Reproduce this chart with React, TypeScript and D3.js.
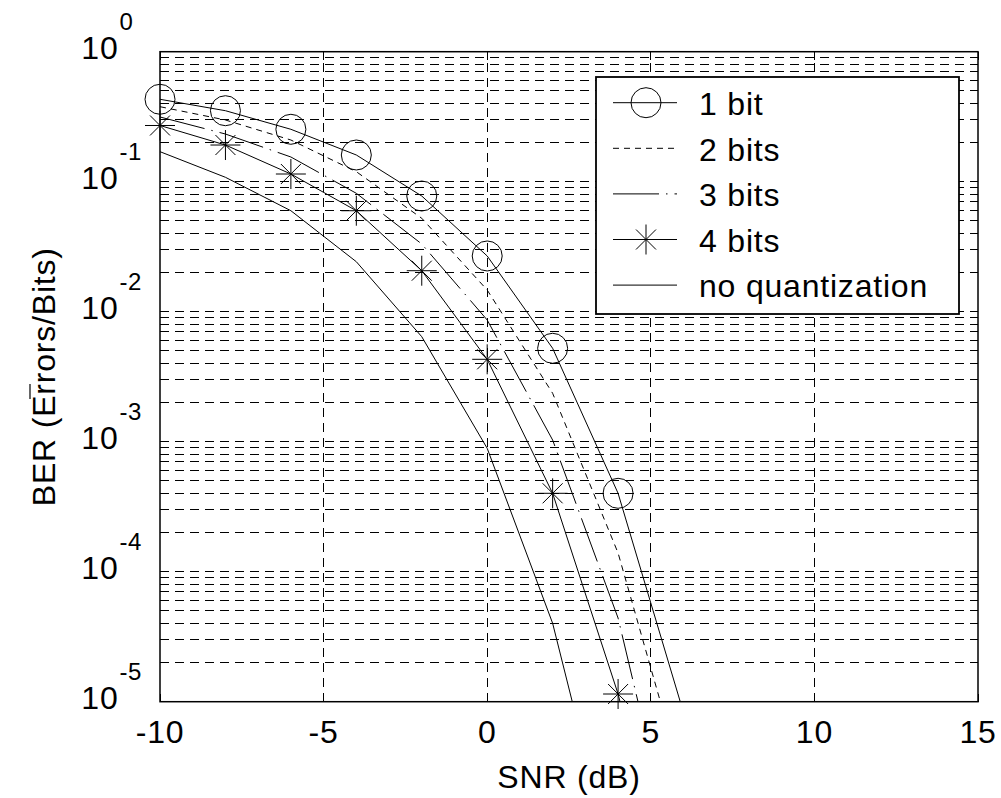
import React from "react";
import * as d3 from "d3";

const snrAll = [-10, -8, -6, -4, -2, 0, 2, 4, 6];
const snrNoQ = [-10, -8, -6, -4, -2, 0, 2, 4];

const ber1bit = [0.4305, 0.3516, 0.253, 0.1605, 0.0776, 0.02683, 0.005231, 4.009e-4, 8.23e-6];
const ber2bits = [0.3775, 0.2983, 0.2093, 0.1194, 0.05232, 0.01468, 0.002357, 1.392e-4, 2.37e-6];
const ber3bits = [0.3146, 0.2327, 0.1549, 0.08141, 0.03317, 0.008635, 0.00103, 4.4e-5, 3.38e-7];
const ber4bits = [0.2706, 0.1915, 0.1146, 0.05981, 0.02067, 0.004303, 4.009e-4, 1.146e-5, 1.1e-7];
const berNoQ = [0.1702, 0.1081, 0.05981, 0.02424, 0.006421, 8.89e-4, 4.01e-5, 3.9e-7];

const xTicks = [-10, -5, 0, 5, 10, 15];
const yDecades = [0, -1, -2, -3, -4, -5];
const legendLabels = ["1 bit", "2 bits", "3 bits", "4 bits", "no quantization"];

const W = 1001;
const H = 798;
const L = 160, R = 978, T = 51.7, B = 701.7;
const FONT = "'Liberation Sans', Arial, Helvetica, sans-serif";

type Series = { label: string; x: number[]; y: number[]; dash: string | null; marker: "circle" | "star" | null };

const series: Series[] = [
  { label: legendLabels[0], x: snrAll, y: ber1bit, dash: null, marker: "circle" },
  { label: legendLabels[1], x: snrAll, y: ber2bits, dash: "6,5", marker: null },
  { label: legendLabels[2], x: snrAll, y: ber3bits, dash: "46,7,1.5,7", marker: null },
  { label: legendLabels[3], x: snrAll, y: ber4bits, dash: null, marker: "star" },
  { label: legendLabels[4], x: snrNoQ, y: berNoQ, dash: null, marker: null },
];

function Marker({ type, cx, cy }: { type: string; cx: number; cy: number }) {
  if (type === "circle") {
    return <circle cx={cx} cy={cy} r={15} fill="none" stroke="#000" strokeWidth={1} />;
  }
  const a = 15, d = 10;
  return (
    <g stroke="#000" strokeWidth={1}>
      <line x1={cx - a} y1={cy} x2={cx + a} y2={cy} />
      <line x1={cx} y1={cy - a} x2={cx} y2={cy + a} />
      <line x1={cx - d} y1={cy - d} x2={cx + d} y2={cy + d} />
      <line x1={cx - d} y1={cy + d} x2={cx + d} y2={cy - d} />
    </g>
  );
}

export default function App() {
  const x = d3.scaleLinear().domain([-10, 15]).range([L, R]);
  const y = d3.scaleLog().domain([1e-5, 1]).range([B, T]);

  const minorVals: number[] = [];
  for (let k = -5; k < 0; k++) {
    for (let m = 1; m <= 9; m++) minorVals.push(m * Math.pow(10, k));
  }
  minorVals.push(1);

  const line = d3
    .line<[number, number]>()
    .x((d) => x(d[0]))
    .y((d) => y(d[1]));

  const legX0 = 596, legY0 = 77, legW = 363, legH = 237;
  const rowY = (i: number) => 102.7 + i * 45.6;

  return (
    <svg width={W} height={H} style={{ position: "absolute", left: 0, top: 0, background: "#fff" }}>
      <rect x={0} y={0} width={W} height={H} fill="#fff" />
      <defs>
        <clipPath id="plotclip">
          <rect x={L} y={T} width={R - L} height={B - T} />
        </clipPath>
      </defs>
      {/* grid */}
      <g stroke="#000" strokeWidth={1} strokeDasharray="9,6" shapeRendering="crispEdges">
        {xTicks.slice(1, -1).map((t) => (
          <line key={"gx" + t} x1={x(t)} x2={x(t)} y1={B} y2={T} />
        ))}
        {minorVals.map((v, i) => (
          <line key={"gy" + i} x1={L} x2={R} y1={y(v)} y2={y(v)} />
        ))}
      </g>
      {/* ticks */}
      <g stroke="#000" strokeWidth={1} shapeRendering="crispEdges">
        {xTicks.map((t) => (
          <g key={"tx" + t}>
            <line x1={x(t)} x2={x(t)} y1={B} y2={B - 8} />
            <line x1={x(t)} x2={x(t)} y1={T} y2={T + 8} />
          </g>
        ))}
        {minorVals.map((v, i) => {
          const major = Math.abs(Math.log10(v) - Math.round(Math.log10(v))) < 1e-9;
          const len = major ? 8 : 5;
          return (
            <g key={"ty" + i}>
              <line x1={L} x2={L + len} y1={y(v)} y2={y(v)} />
              <line x1={R} x2={R - len} y1={y(v)} y2={y(v)} />
            </g>
          );
        })}
      </g>
      {/* data lines */}
      <g clipPath="url(#plotclip)" fill="none" stroke="#000" strokeWidth={1}>
        {series.map((s, i) => (
          <path
            key={"s" + i}
            d={line(s.x.map((v, j) => [v, s.y[j]] as [number, number])) || ""}
            strokeDasharray={s.dash || undefined}
          />
        ))}
      </g>
      {/* markers */}
      {series.map((s, i) =>
        s.marker
          ? s.x.map((v, j) =>
              s.y[j] >= 1e-5 ? <Marker key={"m" + i + "_" + j} type={s.marker as string} cx={x(v)} cy={y(s.y[j])} /> : null
            )
          : null
      )}
      {/* axes box */}
      <rect x={L} y={T} width={R - L} height={B - T} fill="none" stroke="#000" strokeWidth={1.5} />
      {/* x tick labels */}
      <g fontFamily={FONT} fontSize={32} letterSpacing={0.8} fill="#000" textAnchor="middle">
        {xTicks.map((t) => (
          <text key={"xl" + t} x={x(t)} y={743}>
            {t}
          </text>
        ))}
        <text x={(L + R) / 2} y={788}>SNR (dB)</text>
      </g>
      {/* y tick labels */}
      <g fontFamily={FONT} fill="#000">
        {yDecades.map((e) => (
          <g key={"yl" + e}>
            <text x={118.5} y={y(Math.pow(10, e)) + 7.5} fontSize={32} letterSpacing={0.8} textAnchor="end">
              10
            </text>
            <text x={119.5} y={y(Math.pow(10, e)) - 21.7} fontSize={24} letterSpacing={0.6} textAnchor="start">
              {e === 0 ? "0" : String(e)}
            </text>
          </g>
        ))}
      </g>
      {/* y label */}
      <g transform={`translate(55, ${(T + B) / 2}) rotate(-90)`}>
        <text x={0} y={0} fontFamily={FONT} fontSize={32} letterSpacing={0.8} textAnchor="middle" fill="#000">
          BER (Errors/Bits)
        </text>
      </g>
      <line x1={30} x2={30} y1={384} y2={399} stroke="#000" strokeWidth={1.2} />
      {/* legend */}
      <rect x={legX0} y={legY0} width={legW} height={legH} fill="#fff" stroke="#000" strokeWidth={1.8} />
      {series.map((s, i) => (
        <g key={"lg" + i}>
          <line x1={613} x2={677} y1={rowY(i)} y2={rowY(i)} stroke="#000" strokeWidth={1} strokeDasharray={s.dash || undefined} />
          {s.marker ? <Marker type={s.marker} cx={646} cy={rowY(i)} /> : null}
          <text x={699} y={rowY(i) + 12.3} fontFamily={FONT} fontSize={32} letterSpacing={0.8} fill="#000">
            {s.label}
          </text>
        </g>
      ))}
    </svg>
  );
}
